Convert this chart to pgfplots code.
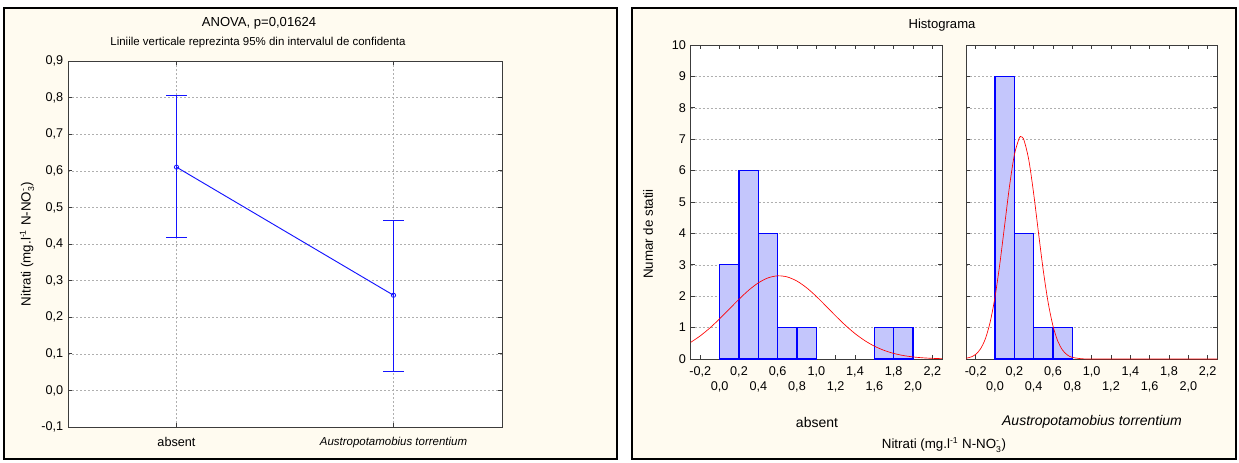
\documentclass[border=0pt]{standalone}
\usepackage{fontspec}
\setmainfont{Liberation Sans}
\usepackage{pgfplots}
\pgfplotsset{compat=1.18}
\definecolor{cream}{RGB}{255,251,240}
\definecolor{barfill}{RGB}{196,198,252}
\definecolor{gridc}{RGB}{175,175,175}
\definecolor{framec}{RGB}{60,60,60}
\definecolor{pureblue}{RGB}{20,20,255}
\newcommand{\tf}{\fontsize{8.6}{10}\selectfont}
\newcommand{\tfb}{\fontsize{9.8}{11}\selectfont}
\newcommand{\lf}{\fontsize{10}{11}\selectfont}
\newcommand{\sm}{\fontsize{6.5}{6.5}\selectfont}
\newcommand{\nlabel}{Nitrati (mg.l$^{\mbox{\sm -1}}$ N-NO$_{\mbox{\sm 3}}^{\mbox{\sm -}}$)}
\pgfplotsset{
  stat/.style={
    scale only axis, anchor=south west,
    axis background/.style={fill=white},
    axis line style={framec, line width=0.6pt},
    tick style={framec, line width=0.5pt},
    major tick length=3pt, tick align=inside,
    ticklabel style={font=\fontsize{9.5}{10}\selectfont, text=black},
    /pgf/number format/assume math mode=true,
    /pgf/number format/use comma,
    /pgf/number format/fixed,
    /pgf/number format/fixed zerofill,
    /pgf/number format/precision=1,
    grid style={gridc, dash pattern=on 1.5pt off 1.5pt, line width=0.4pt},
  },
  hist/.style={
    stat, width=188.5pt, height=235.5pt,
    xmin=-0.3, xmax=2.3, ymin=0, ymax=10,
    ytick={0,1,2,3,4,5,6,7,8,9,10}, ymajorgrids,
    yticklabel style={/pgf/number format/fixed zerofill=false, /pgf/number format/precision=0},
    xtick={-0.2,0.2,0.6,1.0,1.4,1.8,2.2},
    extra x ticks={0,0.4,0.8,1.2,1.6,2.0},
    extra x tick style={tick label style={yshift=-11.25pt}},
    xticklabel style={yshift=-2pt},
    clip=true,
  },
}
\begin{document}
\begin{tikzpicture}[x=0.75pt,y=0.75pt]
\fill[white] (0,0) rectangle (1239,462);
\filldraw[fill=cream, draw=black, line width=1.5pt] (4,3) rectangle (617,454);
\filldraw[fill=cream, draw=black, line width=1.5pt] (632,3) rectangle (1236,454);

% ---------- ANOVA means plot ----------
\begin{axis}[stat, at={(51pt,26.25pt)}, width=325.5pt, height=274.5pt,
  xmin=-0.5, xmax=1.5, ymin=-0.1, ymax=0.9,
  ytick={-0.1,0,0.1,0.2,0.3,0.4,0.5,0.6,0.7,0.8,0.9},
  xtick={0,1}, xticklabels={absent, {\fontsize{8.6}{10}\selectfont\itshape Austropotamobius torrentium}},
  xticklabel style={yshift=-4pt},
  xmajorgrids, ymajorgrids, unbounded coords=jump]
% 95% confidence intervals (whiskers and caps)
\addplot[draw=pureblue, line width=1pt, no marks] coordinates {
  (0,0.417) (0,0.805) (nan,nan)
  (-0.048,0.805) (0.048,0.805) (nan,nan)
  (-0.048,0.417) (0.048,0.417) (nan,nan)
  (1,0.052) (1,0.465) (nan,nan)
  (0.952,0.465) (1.048,0.465) (nan,nan)
  (0.952,0.052) (1.048,0.052)};
% means
\addplot[draw=pureblue, line width=0.7pt, mark=o, mark size=1.6pt,
  mark options={fill=white, draw=pureblue, line width=0.6pt}]
  coordinates {(0,0.610) (1,0.260)};
\end{axis}
\node[font=\tfb] at (259,439) {ANOVA, p=0,01624};
\node[font=\tf] at (258,419) {Liniile verticale reprezinta 95\% din intervalul de confidenta};
\node[font=\lf, rotate=90] at (27,218) {\nlabel};

% ---------- Histogram: absent ----------
\begin{axis}[hist, at={(518pt,77.25pt)}]
\addplot[ybar interval, draw=blue, fill=barfill, line width=0.9pt]
  coordinates {(0,3) (0.2,6) (0.4,4) (0.6,1) (0.8,1) (1.0,1)};
\addplot[ybar interval, draw=blue, fill=barfill, line width=0.9pt]
  coordinates {(1.6,1) (1.8,1) (2.0,1)};
\addplot[red, smooth, line width=0.5pt, no marks] coordinates {
  (-0.3,0.530) (-0.2,0.739) (-0.1,0.992) (0.0,1.281) (0.1,1.592) (0.2,1.903)
  (0.3,2.190) (0.4,2.425) (0.5,2.583) (0.6,2.649) (0.7,2.613) (0.8,2.481)
  (0.9,2.267) (1.0,1.993) (1.1,1.686) (1.2,1.372) (1.3,1.075) (1.4,0.810)
  (1.5,0.588) (1.6,0.410) (1.7,0.276) (1.8,0.178) (1.9,0.111) (2.0,0.066)
  (2.1,0.038) (2.2,0.021) (2.3,0.011)};
\end{axis}

% ---------- Histogram: Austropotamobius torrentium ----------
\begin{axis}[hist, at={(724.5pt,77.25pt)}, yticklabels={}]
\addplot[ybar interval, draw=blue, fill=barfill, line width=0.9pt]
  coordinates {(0,9) (0.2,4) (0.4,1) (0.6,1) (0.8,1)};
\addplot[red, smooth, line width=0.5pt, no marks] coordinates {
  (-0.3,0.024) (-0.25,0.062) (-0.2,0.148) (-0.15,0.322) (-0.1,0.644)
  (-0.05,1.178) (0.0,1.975) (0.05,3.033) (0.1,4.269) (0.15,5.503)
  (0.2,6.498) (0.25,7.03) (0.27,7.08) (0.3,6.969) (0.35,6.331) (0.4,5.265)
  (0.45,4.015) (0.5,2.804) (0.55,1.794) (0.6,1.051) (0.65,0.564)
  (0.7,0.278) (0.75,0.125) (0.8,0.052) (0.9,0.007) (1.0,0.001)
  (1.2,0) (1.6,0) (2.0,0) (2.3,0)};
\end{axis}
\node[font=\tfb] at (942,437) {Histograma};
\node[font=\lf, rotate=90] at (648,228) {Numar de statii};
\node[font=\fontsize{10.5}{12}\selectfont] at (817,40) {absent};
\node[font=\fontsize{10.5}{12}\selectfont\itshape] at (1092,40) {Austropotamobius torrentium};
\node[font=\lf] at (944,17) {\nlabel};
\end{tikzpicture}
\end{document}
